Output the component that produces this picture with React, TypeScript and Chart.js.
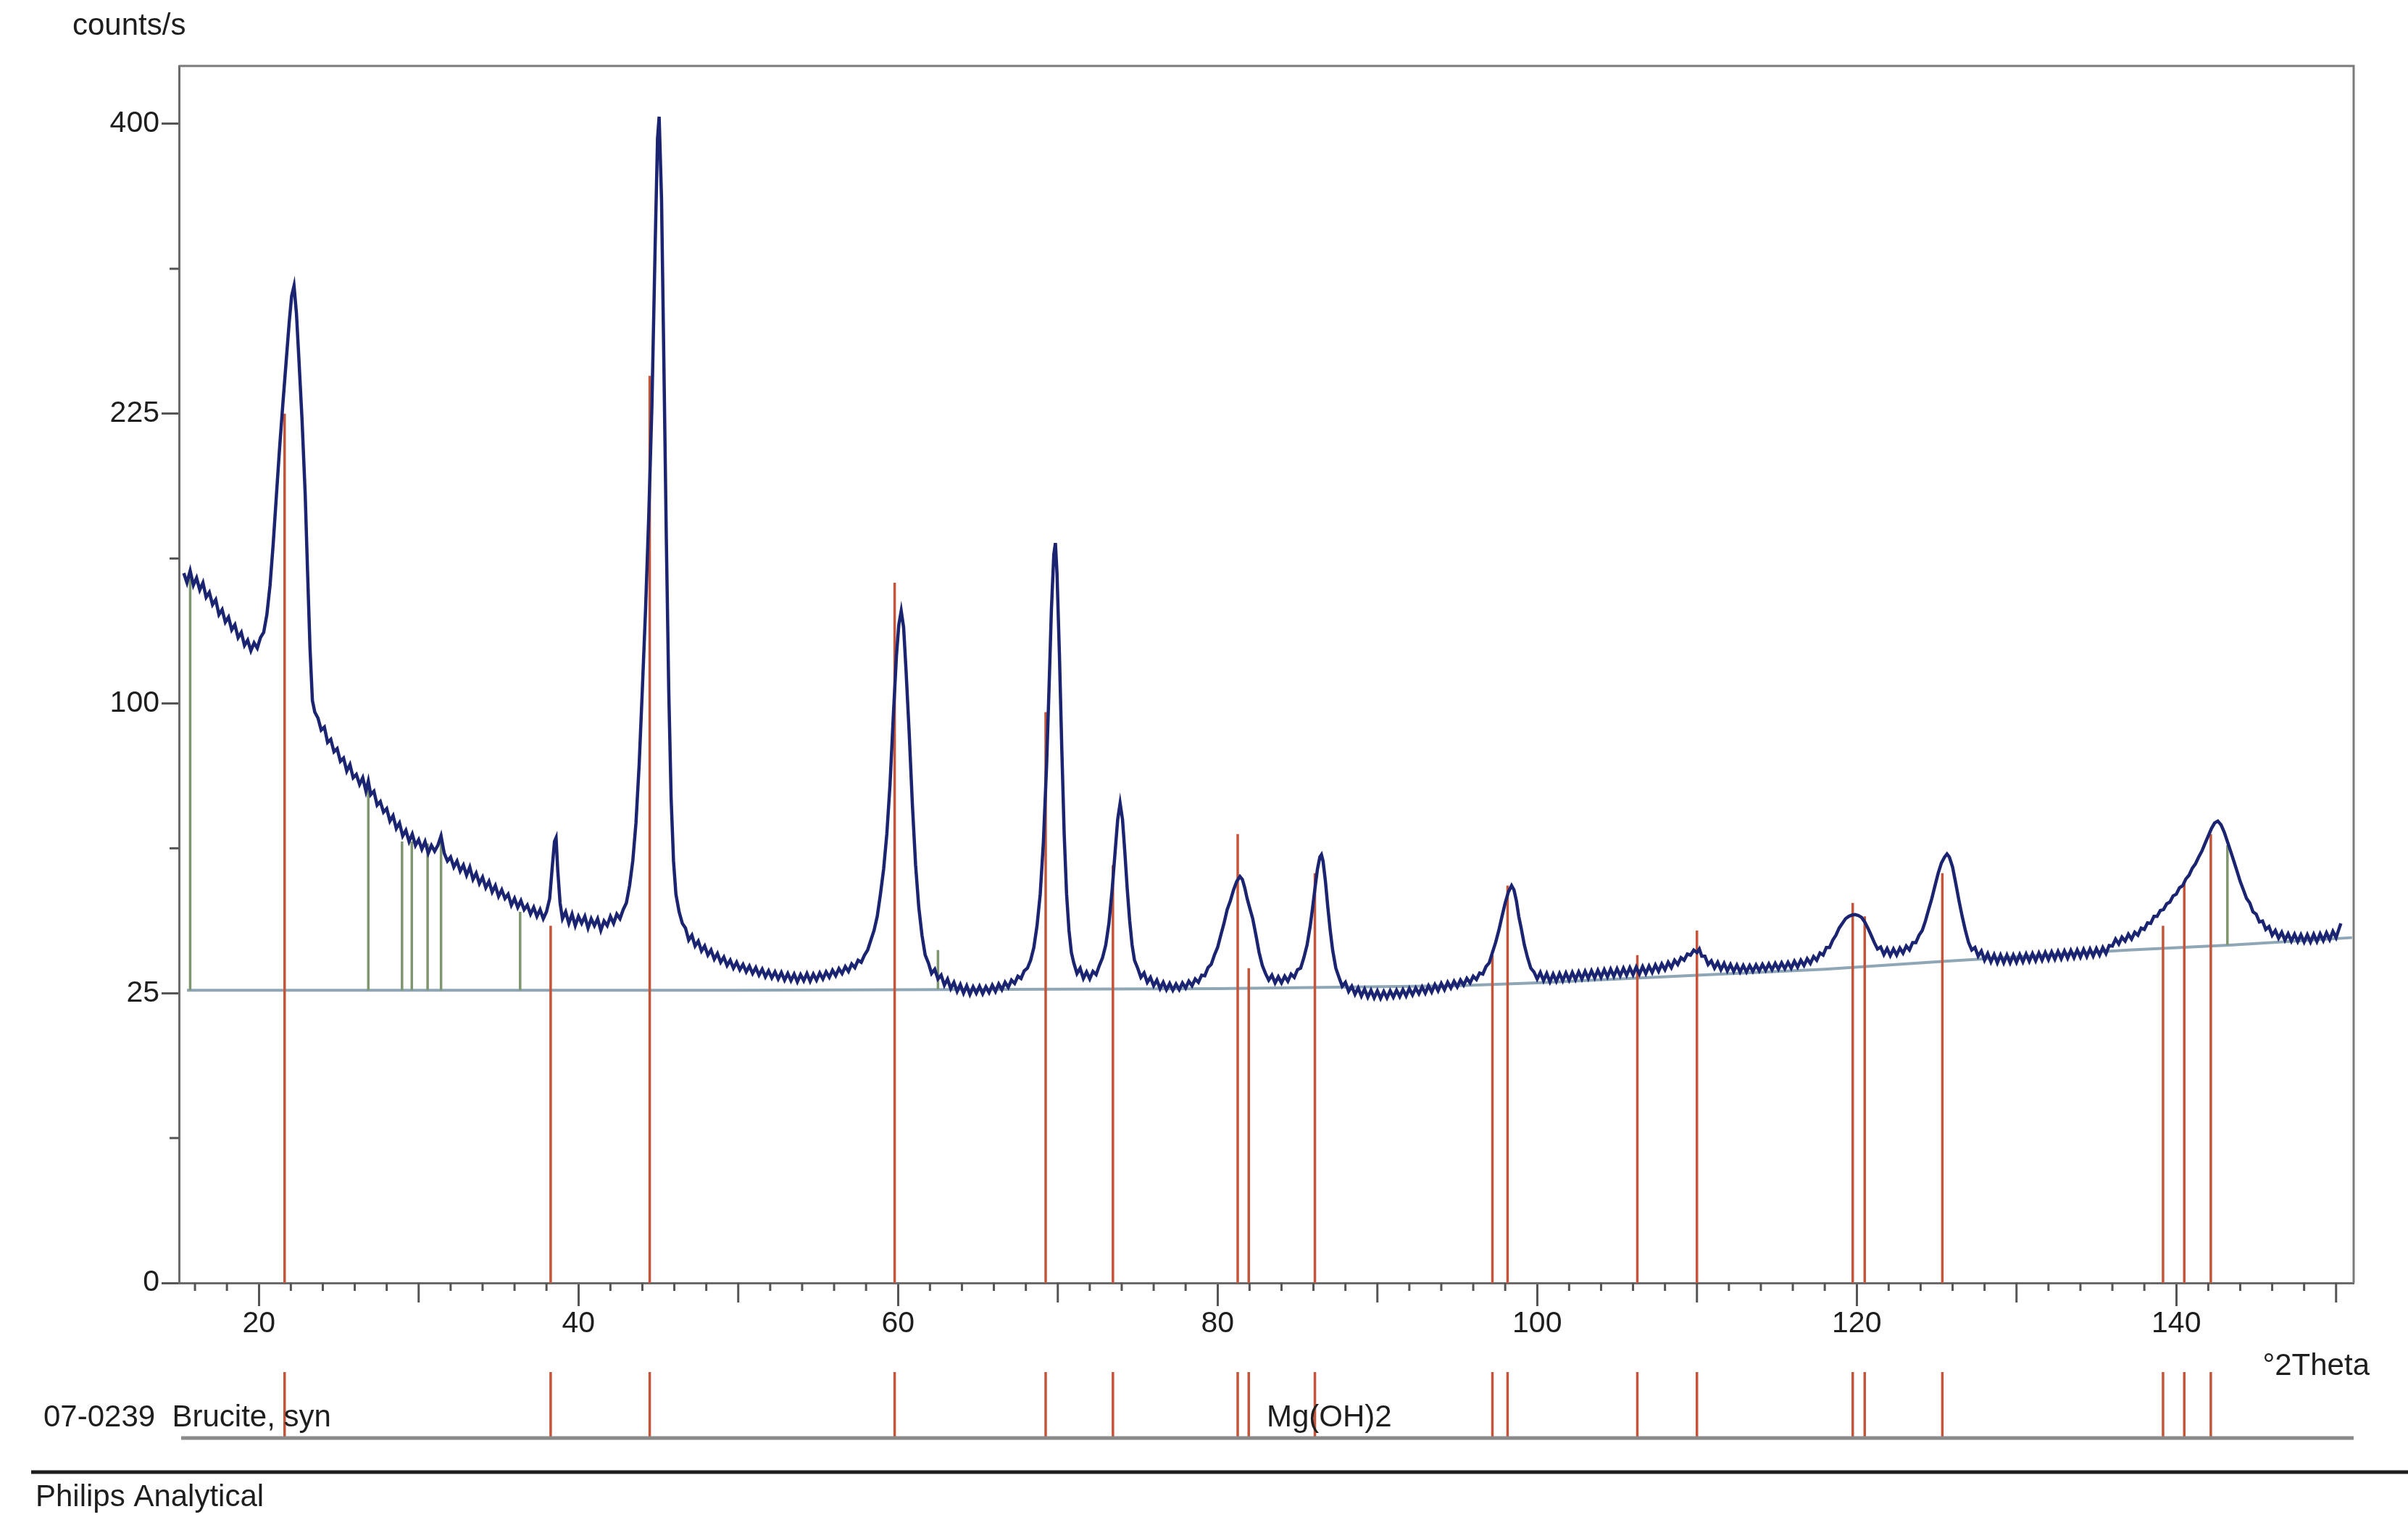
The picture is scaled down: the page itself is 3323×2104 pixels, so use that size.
import React, { useEffect, useRef } from 'react';
import { Chart, LinearScale, registerables } from 'chart.js';

Chart.register(...registerables);

class SqrtScale extends LinearScale {
  static id = 'sqrt';
  getPixelForValue(value: any) {
    if (value === null || value === undefined || isNaN(value)) return NaN;
    const lo = Math.sqrt(Math.max(0, this.min));
    const hi = Math.sqrt(this.max);
    const v = Math.sqrt(Math.max(0, value));
    return this.getPixelForDecimal((v - lo) / (hi - lo));
  }
  getValueForPixel(pixel: number) {
    const lo = Math.sqrt(Math.max(0, this.min));
    const hi = Math.sqrt(this.max);
    const s = lo + this.getDecimalForPixel(pixel) * (hi - lo);
    return s * s;
  }
}
Chart.register(SqrtScale as any);

// ---- data ----
const X_TICKS = [20, 40, 60, 80, 100, 120, 140];
const Y_TICKS = [0, 25, 100, 225, 400];
const Y_MINOR_TICKS = [6.25, 56.25, 156.25, 306.25];

// measured scan (2Theta, counts/s)
const TRACE: [number, number][] = [
  [15.3,150],[15.5,146],[15.7,151],[15.9,145],[16.1,148],[16.3,143],[16.5,146],[16.7,140],[16.9,142],[17.1,137],[17.3,139],[17.5,133],[17.7,135],[17.9,130],[18.1,132],[18.3,127],[18.5,129],[18.7,124],[18.9,126],[19.1,121],[19.3,123],[19.5,119],[19.7,122],[19.9,120],[20.1,124],[20.3,126],
  [20.5,133],[20.7,145],[20.9,163],[21.1,185],[21.3,208],[21.5,230],[21.7,252],[21.9,275],[22.05,290],[22.2,296],[22.35,280],[22.5,255],[22.7,222],[22.9,185],[23.05,150],[23.2,120],[23.35,101],[23.5,97],
  [23.7,95],[23.9,91],[24.1,92],[24.3,87],[24.5,88],[24.7,84],[24.9,85],[25.1,81],[25.3,82],[25.5,78],[25.7,80],[25.9,76],[26.1,77],[26.3,74],[26.5,76],[26.7,72],[26.85,75],[27.0,71],[27.2,72],[27.4,68],[27.6,69],[27.8,66],[28.0,67],[28.2,63.5],[28.4,65],[28.6,61.5],[28.8,63],[29.0,59.5],[29.2,61],[29.4,58],[29.6,60],[29.8,57],[30.0,58.5],[30.2,56],[30.4,58],[30.6,55],[30.8,57],[31.0,55.5],[31.2,57],[31.4,59.5],[31.6,55],[31.8,53],[32.0,54],[32.2,51.5],[32.4,53],[32.6,50.5],[32.8,52],[33.0,49.5],[33.2,51.5],[33.4,48.5],[33.6,50],[33.8,47.5],[34.0,49],[34.2,46.5],[34.4,48],[34.6,45.5],[34.8,47],[35.0,44.5],[35.2,46],[35.4,44],[35.6,45],[35.8,42.5],[36.0,44],[36.2,42],[36.4,43.5],[36.6,41.5],[36.8,42.5],[37.0,40.5],[37.2,42],[37.4,40],[37.6,41.5],[37.8,39.5],[38.0,41],[38.2,44],[38.35,51],[38.5,58],[38.6,59],[38.7,51],[38.85,43],[39.0,39.5],[39.2,41],[39.4,38.5],[39.6,40.5],[39.8,38],[40.0,40],[40.2,38.5],[40.4,40],[40.6,37.5],[40.8,39.5],[41.0,38],[41.2,39.5],[41.4,37],[41.6,39],[41.8,38],[42.0,40],[42.2,38.5],[42.4,40.5],[42.6,39.5],[42.8,41.5],[43.0,43],
  [43.2,47],[43.4,53],[43.6,63],[43.8,80],[44.0,105],[44.2,135],[44.4,175],[44.6,230],[44.8,320],[44.95,390],[45.05,405],[45.2,350],[45.35,250],[45.5,165],[45.65,105],[45.8,70],[45.95,53],[46.1,45],[46.3,41],[46.5,38.5],
  [46.7,37.5],[46.9,35],[47.1,36],[47.3,33.8],[47.5,34.8],[47.7,32.8],[47.9,33.8],[48.1,32],[48.3,33],[48.5,31.2],[48.7,32.3],[48.9,30.6],[49.1,31.6],[49.3,30],[49.5,31],[49.7,29.5],[49.9,30.6],[50.1,29.2],[50.3,30.2],[50.5,28.8],[50.7,29.9],[50.9,28.5],[51.1,29.6],[51.3,28.2],[51.5,29.3],[51.7,27.9],[51.9,29],[52.1,27.7],[52.3,28.8],[52.5,27.5],[52.7,28.7],[52.9,27.3],[53.1,28.5],[53.3,27.2],[53.5,28.4],[53.7,27],[53.9,28.3],[54.1,27.2],[54.3,28.5],[54.5,27.1],[54.7,28.4],[54.9,27.3],[55.1,28.6],[55.3,27.5],[55.5,28.8],[55.7,27.8],[55.9,29.1],[56.1,28.1],[56.3,29.4],[56.5,28.5],[56.7,29.8],[56.9,28.9],[57.1,30.3],[57.3,29.6],[57.5,31],[57.7,30.6],[57.9,32],
  [58.1,33],[58.3,35],[58.5,37],[58.7,40],[58.9,45],[59.1,51],[59.3,60],[59.5,74],[59.7,95],[59.9,117],[60.05,129],[60.2,134.5],[60.35,128],[60.5,112],[60.7,90],[60.9,68],[61.1,52],[61.3,42],[61.5,36],[61.7,32],[61.9,30.5],[62.1,28.5],[62.3,29.3],[62.5,27.5],
  [62.7,28.2],[62.9,26.4],[63.1,27.5],[63.3,25.8],[63.5,26.9],[63.7,25.3],[63.9,26.5],[64.1,25],[64.3,26.3],[64.5,24.8],[64.7,26.1],[64.9,25],[65.1,26.2],[65.3,24.9],[65.5,26.1],[65.7,25.1],[65.9,26.4],[66.1,25.3],[66.3,26.6],[66.5,25.6],[66.7,26.9],[66.9,26],[67.1,27.3],[67.3,26.7],[67.5,28],[67.7,27.6],[67.9,29],
  [68.1,29.5],[68.3,31],[68.5,33.5],[68.7,38],[68.9,45],[69.1,58],[69.3,80],[69.45,105],[69.6,135],[69.75,158],[69.85,163],[69.95,150],[70.1,118],[70.25,85],[70.4,60],[70.55,45],[70.7,37],[70.85,32.5],[71.0,30.5],[71.2,28.5],[71.4,29.5],[71.6,27.6],[71.8,28.8],[72.0,27.5],[72.2,28.9],[72.4,28.3],[72.6,30],[72.8,31.5],[73.0,34],[73.2,38.5],[73.4,46],[73.6,56],[73.75,64],[73.9,68.5],[74.05,64],[74.2,55],[74.35,46],[74.5,39],[74.65,34],[74.8,31],[75.0,29.5],[75.2,27.8],[75.4,28.6],
  [75.6,26.9],[75.8,27.8],[76.0,26.3],[76.2,27.3],[76.4,25.8],[76.6,26.9],[76.8,25.6],[77.0,26.7],[77.2,25.5],[77.4,26.6],[77.6,25.6],[77.8,26.8],[78.0,25.9],[78.2,27.1],[78.4,26.3],[78.6,27.5],[78.8,26.9],[79.0,28.2],[79.2,28.1],[79.4,29.6],[79.6,30.2],[79.8,32],
  [80.0,33.5],[80.2,36],[80.4,38.5],[80.6,41.5],[80.8,43.5],[81.0,46],[81.2,48],[81.4,49.2],[81.55,48.5],[81.7,46.5],[81.85,44],[82.0,42],[82.2,39.5],[82.4,36],[82.6,32.5],[82.8,30],[83.0,28.5],[83.2,27.3],[83.4,28.2],[83.6,26.8],[83.8,27.9],[84.0,26.8],[84.2,28],[84.4,27.1],[84.6,28.4],[84.8,27.8],[85.0,29.2],[85.2,29.5],[85.4,31.5],[85.6,34],[85.8,38],
  [85.95,42],[86.1,46.5],[86.25,51],[86.4,54],[86.5,54.6],[86.6,53],[86.75,48],[86.9,42],[87.05,37],[87.2,33],[87.4,29.5],[87.6,27.8],[87.8,26.2],[88.0,26.9],[88.2,25.3],[88.4,26.2],[88.6,24.8],[88.8,25.9],[89.0,24.5],[89.2,25.7],[89.4,24.3],[89.6,25.5],[89.8,24.2],[90.0,25.4],[90.2,24.1],[90.4,25.3],[90.6,24.2],[90.8,25.4],[91.0,24.3],[91.2,25.5],[91.4,24.4],[91.6,25.6],[91.8,24.5],[92.0,25.8],[92.2,24.7],[92.4,25.9],[92.6,24.9],[92.8,26.1],[93.0,25],[93.2,26.3],[93.4,25.2],[93.6,26.5],[93.8,25.4],[94.0,26.7],[94.2,25.6],[94.4,26.9],[94.6,25.9],[94.8,27.1],[95.0,26.1],[95.2,27.3],[95.4,26.4],[95.6,27.6],[95.8,26.8],[96.0,28],[96.2,27.4],[96.4,28.6],[96.6,28.4],[96.8,29.8],
  [97.0,30.5],[97.2,32.5],[97.4,34.5],[97.6,37],[97.8,40],[98.0,43],[98.2,45.5],[98.4,47],[98.55,46],[98.7,43.5],[98.85,40],[99.0,37.5],[99.2,34],[99.4,31.5],[99.6,29.5],[99.8,28.8],[100.0,27.5],[100.2,28.7],[100.4,27.2],[100.6,28.5],
  [100.8,27],[101.0,28.4],[101.2,27.1],[101.4,28.5],[101.6,27.2],[101.8,28.6],[102.0,27.3],[102.2,28.7],[102.4,27.4],[102.6,28.8],[102.8,27.5],[103.0,28.9],[103.2,27.6],[103.4,29],[103.6,27.7],[103.8,29.1],[104.0,27.8],[104.2,29.2],[104.4,27.9],[104.6,29.3],[104.8,28],[105.0,29.4],[105.2,28.1],[105.4,29.5],[105.6,28.2],[105.8,29.6],[106.0,28.3],[106.2,29.7],[106.4,28.4],[106.6,29.8],[106.8,28.5],[107.0,29.9],[107.2,28.7],[107.4,30.1],[107.6,28.9],[107.8,30.3],[108.0,29.2],[108.2,30.6],[108.4,29.6],[108.6,31],[108.8,30.2],[109.0,31.5],[109.2,31],[109.4,32.2],[109.6,32],[109.8,33],[110.0,32.5],[110.15,33.2],[110.3,31.8],[110.5,31.8],[110.7,30.2],[110.9,30.9],[111.1,29.5],[111.3,30.6],
  [111.5,29.2],[111.7,30.4],[111.9,29],[112.1,30.2],[112.3,28.9],[112.5,30.1],[112.7,28.8],[112.9,30],[113.1,28.8],[113.3,30],[113.5,28.9],[113.7,30.1],[113.9,29],[114.1,30.2],[114.3,29.1],[114.5,30.3],[114.7,29.2],[114.9,30.4],[115.1,29.3],[115.3,30.5],[115.5,29.4],[115.7,30.6],[115.9,29.5],[116.1,30.8],[116.3,29.7],[116.5,31],[116.7,30],[116.9,31.3],[117.1,30.4],[117.3,31.7],[117.5,31],
  [117.7,32.4],[117.9,32],[118.1,33.5],[118.3,33.5],[118.5,35],[118.7,36],[118.9,37.5],[119.1,38.5],[119.3,39.5],[119.5,40],[119.7,40.3],[119.9,40.4],[120.1,40.2],[120.3,39.8],[120.5,38.8],[120.7,37.5],[120.9,36],[121.1,34.5],[121.3,33.2],[121.5,33.6],[121.7,32.1],[121.9,33.3],[122.1,31.9],[122.3,33.2],[122.5,32],[122.7,33.4],[122.9,32.4],[123.1,33.8],[123.3,33],[123.5,34.5],[123.7,34.5],[123.9,36],
  [124.1,37],[124.3,39],[124.5,41.5],[124.7,44],[124.9,47],[125.1,50],[125.3,52.5],[125.5,54],[125.65,54.8],[125.8,54],[126.0,51.5],[126.2,47.5],[126.4,43.5],[126.6,40],[126.8,37],[127.0,34.5],[127.2,33],[127.4,33.5],[127.6,31.8],[127.8,32.8],
  [128.0,31],[128.2,32.3],[128.4,30.7],[128.6,32.1],[128.8,30.5],[129.0,32],[129.2,30.5],[129.4,32],[129.6,30.5],[129.8,32],[130.0,30.6],[130.2,32.1],[130.4,30.7],[130.6,32.2],[130.8,30.8],[131.0,32.3],[131.2,30.9],[131.4,32.4],[131.6,31],[131.8,32.5],[132.0,31.1],[132.2,32.6],[132.4,31.2],[132.6,32.7],[132.8,31.3],[133.0,32.8],[133.2,31.4],[133.4,32.9],[133.6,31.5],[133.8,33],[134.0,31.6],[134.2,33.1],[134.4,31.7],[134.6,33.2],[134.8,31.8],[135.0,33.3],[135.2,32],[135.4,33.5],[135.6,32.3],[135.8,33.9],
  [136.0,33.8],[136.2,35.2],[136.4,34.2],[136.6,35.6],[136.8,34.8],[137.0,36.2],[137.2,35.2],[137.4,36.6],[137.6,36],[137.8,37.5],[138.0,37.2],[138.2,38.6],[138.4,38.5],[138.6,40],[138.8,40],[139.0,41.3],[139.2,41.5],[139.4,42.8],[139.6,43.2],[139.8,44.6],[140.0,45],[140.2,46.5],[140.4,47],[140.6,48.6],[140.8,49.5],[141.0,51.2],[141.2,52.3],[141.4,54],[141.6,55.5],[141.8,57.5],[142.0,59.5],[142.2,61.5],[142.4,63],[142.6,63.5],[142.8,62.5],[143.0,60.5],[143.2,58],[143.4,55.5],[143.6,53],[143.8,50.5],[144.0,48],[144.2,46],[144.4,44],[144.6,43],[144.8,41],[145.0,40.5],[145.2,38.8],[145.4,39],[145.6,37.2],[145.8,37.8],[146.0,36],[146.2,37],[146.4,35.4],[146.6,36.6],[146.8,35],[147.0,36.3],[147.2,34.8],[147.4,36.2],[147.6,34.7],[147.8,36.1],[148.0,34.6],[148.2,36.1],[148.4,34.6],[148.6,36.2],[148.8,34.7],[149.0,36.3],[149.2,34.9],[149.4,36.5],[149.6,35.1],[149.8,36.8],[150.0,35.5],[150.2,37.5],[150.3,38.5],
];

// background line
const BASELINE: [number, number][] = [
  [15.5, 25.5], [50, 25.5], [80, 25.8], [95, 26.3], [100, 26.8], [110, 28.2], [118, 29.3], [125.5, 30.8], [137, 33], [143.5, 34], [151, 35.5],
];

// reference pattern 07-0239 Brucite, syn (Mg(OH)2)
const REF_ANGLES = [21.61, 38.26, 44.46, 59.79, 69.24, 73.45, 81.26, 81.95, 86.09, 97.2, 98.15, 106.27, 110.0, 119.75, 120.5, 125.36, 139.17, 140.5, 142.16];
const REF_HEIGHTS = [225, 38, 245, 146, 97, 52, 60, 29.5, 50, 32, 47, 32, 37, 43, 40, 50, 38, 48, 60];

// peak markers (green)
const MARK_ANGLES = [15.7, 26.85, 28.96, 29.57, 30.56, 31.4, 36.35, 62.5, 143.2];
const MARK_BASES = [25.5, 25.5, 25.5, 25.5, 25.5, 25.5, 25.5, 25.7, 34];
const MARK_TOPS = [150, 74, 58, 58, 57.5, 60, 41, 33, 57];

const FONT = '"Liberation Sans", Arial, Helvetica, sans-serif';
const W = 3323;
const H = 2104;

export default function App() {
  const ref = useRef<HTMLCanvasElement | null>(null);

  useEffect(() => {
    const canvas = ref.current;
    if (!canvas) return;

    const traceData = TRACE.map(([x, y]) => ({ x, y }));
    const baseData = BASELINE.map(([x, y]) => ({ x, y }));
    const refData: any[] = [];
    REF_ANGLES.forEach((a, i) => {
      refData.push({ x: a, y: 0 }, { x: a, y: REF_HEIGHTS[i] }, { x: a, y: null });
    });
    const markData: any[] = [];
    MARK_ANGLES.forEach((a, i) => {
      markData.push({ x: a, y: MARK_BASES[i] }, { x: a, y: MARK_TOPS[i] }, { x: a, y: null });
    });

    const extras = {
      id: 'extras',
      beforeDraw(chart: any) {
        const { ctx } = chart;
        ctx.save();
        ctx.fillStyle = '#ffffff';
        ctx.fillRect(0, 0, chart.width, chart.height);
        ctx.restore();
      },
      afterDraw(chart: any) {
        const { ctx, chartArea: a, scales } = chart;
        const xs = scales.x;
        const ys = scales.y;
        ctx.save();
        // box top & right
        ctx.strokeStyle = '#7a7a7a';
        ctx.lineWidth = 3;
        ctx.beginPath();
        ctx.moveTo(a.left, a.top);
        ctx.lineTo(a.right, a.top);
        ctx.lineTo(a.right, a.bottom);
        ctx.stroke();
        // minor ticks x
        ctx.strokeStyle = '#555';
        ctx.lineWidth = 3;
        for (let v = 16; v <= 150; v += 2) {
          if (v % 20 === 0) continue;
          const px = xs.getPixelForValue(v);
          const len = v % 10 === 0 ? 27 : 11;
          ctx.beginPath();
          ctx.moveTo(px, a.bottom);
          ctx.lineTo(px, a.bottom + len);
          ctx.stroke();
        }
        // minor ticks y
        for (const v of Y_MINOR_TICKS) {
          const py = ys.getPixelForValue(v);
          ctx.beginPath();
          ctx.moveTo(a.left, py);
          ctx.lineTo(a.left - 13, py);
          ctx.stroke();
        }
        // reference pattern panel
        ctx.strokeStyle = '#c4553a';
        ctx.lineWidth = 3.5;
        for (const ang of REF_ANGLES) {
          const px = xs.getPixelForValue(ang);
          ctx.beginPath();
          ctx.moveTo(px, 1893);
          ctx.lineTo(px, 1983);
          ctx.stroke();
        }
        ctx.strokeStyle = '#8a8a8a';
        ctx.lineWidth = 5;
        ctx.beginPath();
        ctx.moveTo(250, 1984);
        ctx.lineTo(a.right, 1984);
        ctx.stroke();
        ctx.strokeStyle = '#1e1e1e';
        ctx.lineWidth = 5;
        ctx.beginPath();
        ctx.moveTo(43, 2031);
        ctx.lineTo(W, 2031);
        ctx.stroke();
        // texts
        ctx.fillStyle = '#1e1e1e';
        ctx.font = `42px ${FONT}`;
        ctx.textBaseline = 'alphabetic';
        ctx.textAlign = 'left';
        ctx.fillText('counts/s', 100, 48);
        ctx.fillText('07-0239  Brucite, syn', 60, 1968);
        ctx.fillText('Mg(OH)2', 1748, 1968);
        ctx.fillText('Philips Analytical', 49, 2078);
        ctx.textAlign = 'right';
        ctx.fillText('°2Theta', 3270, 1897);
        ctx.restore();
      },
    };

    const chart = new Chart(canvas, {
      type: 'line',
      data: {
        datasets: [
          { data: traceData, borderColor: '#1b2470', borderWidth: 4.5, order: 0 },
          { data: refData, borderColor: '#c4553a', borderWidth: 3.5, order: 1, spanGaps: false },
          { data: markData, borderColor: '#7f9670', borderWidth: 3.5, order: 2, spanGaps: false },
          { data: baseData, borderColor: '#8ea6b6', borderWidth: 4, order: 3 },
        ],
      },
      options: {
        animation: false,
        responsive: false,
        devicePixelRatio: 1,
        parsing: true,
        layout: { padding: { top: 91, right: 75, left: 0, bottom: 0 } },
        elements: { point: { radius: 0 }, line: { tension: 0, fill: false } },
        plugins: { legend: { display: false }, tooltip: { enabled: false } },
        scales: {
          x: {
            type: 'linear',
            min: 15,
            max: 151.1,
            afterBuildTicks: (s: any) => { s.ticks = X_TICKS.map((v) => ({ value: v })); },
            afterFit: (s: any) => { s.height = H - 1770; },
            grid: { drawOnChartArea: false, drawTicks: true, tickLength: 32, tickWidth: 3, tickColor: '#555' },
            border: { display: true, color: '#6a6a6a', width: 3 },
            ticks: {
              font: { family: FONT, size: 41 },
              color: '#1e1e1e',
              padding: 0,
              maxRotation: 0,
              autoSkip: false,
              callback: (v: any) => String(v),
            },
          },
          y: {
            type: 'sqrt',
            min: 0,
            max: 441,
            afterBuildTicks: (s: any) => { s.ticks = Y_TICKS.map((v) => ({ value: v })); },
            afterFit: (s: any) => { s.width = 247; },
            grid: { drawOnChartArea: false, drawTicks: true, tickLength: 24, tickWidth: 3, tickColor: '#555' },
            border: { display: true, color: '#6a6a6a', width: 3 },
            ticks: {
              font: { family: FONT, size: 41 },
              color: '#1e1e1e',
              padding: 3,
              autoSkip: false,
              callback: (v: any) => String(v),
            },
          },
        } as any,
      },
      plugins: [extras],
    } as any);

    return () => chart.destroy();
  }, []);

  return (
    <div style={{ position: 'absolute', left: 0, top: 0, width: W, height: H, background: '#fff' }}>
      <canvas ref={ref} width={W} height={H} style={{ display: 'block', width: W, height: H }} />
    </div>
  );
}
